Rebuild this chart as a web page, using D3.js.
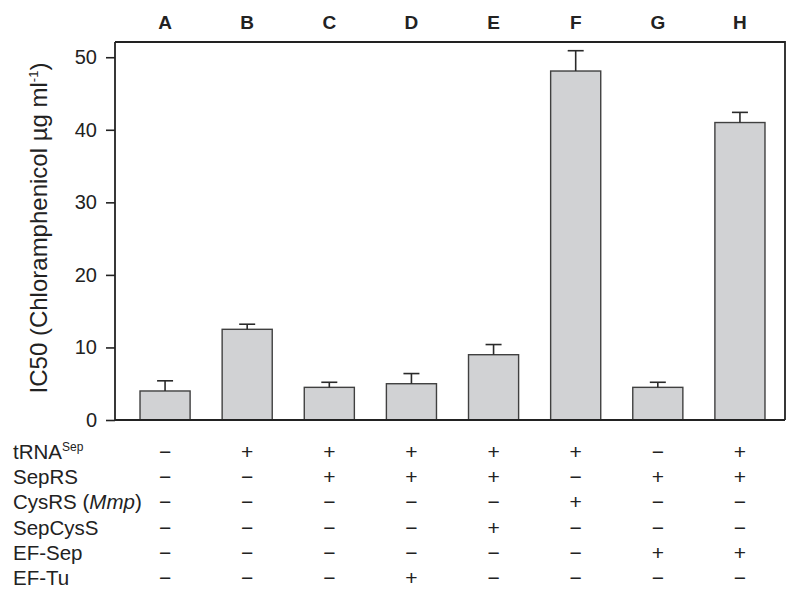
<!DOCTYPE html>
<html>
<head>
<meta charset="utf-8">
<script src="https://cdn.jsdelivr.net/npm/d3@7"></script>
<style>
  body { margin: 0; background: #fff; }
  text { font-family: "Liberation Sans", Arial, Helvetica, sans-serif; fill: #222; }
</style>
</head>
<body>
<div id="chart-area"></div>
<script>
let lanes = ["A", "B", "C", "D", "E", "F", "G", "H"];
let ic50 = [4.0, 12.5, 4.5, 5.0, 9.0, 48.1, 4.5, 41.0];
let errUp = [1.4, 0.7, 0.7, 1.4, 1.4, 2.8, 0.7, 1.4];
let yTicks = [0, 10, 20, 30, 40, 50];

let rowLabels = ["tRNA", "SepRS", "CysRS (", "SepCysS", "EF-Sep", "EF-Tu"];
let signs = [
    ["−", "+", "+", "+", "+", "+", "−", "+"],
    ["−", "−", "+", "+", "+", "−", "+", "+"],
    ["−", "−", "−", "−", "−", "+", "−", "−"],
    ["−", "−", "−", "−", "+", "−", "−", "−"],
    ["−", "−", "−", "−", "−", "−", "+", "+"],
    ["−", "−", "−", "+", "−", "−", "−", "−"]
];

let width = 800;
let height = 599;
let plot = { left: 115, right: 785, top: 42, bottom: 420 };

let svg = d3.select("#chart-area")
    .append("svg")
    .attr("width", width)
    .attr("height", height);

let x = d3.scaleBand()
    .domain(lanes)
    .range([124, 781])
    .paddingInner(0.39)
    .paddingOuter(0.195);

let y = d3.scaleLinear()
    .domain([0, 52.1])
    .range([plot.bottom, plot.top]);

// bars
svg.append("g")
    .selectAll("rect")
    .data(lanes)
    .enter()
    .append("rect")
    .attr("x", d => x(d))
    .attr("y", (d, i) => y(ic50[i]))
    .attr("width", x.bandwidth())
    .attr("height", (d, i) => y(0) - y(ic50[i]))
    .attr("fill", "#d1d2d4")
    .attr("stroke", "#404040")
    .attr("stroke-width", 1.4);

// error bars (upper only)
let errs = svg.append("g")
    .attr("stroke", "#2a2a2a")
    .attr("stroke-width", 1.6);

lanes.forEach((d, i) => {
    let cx = x(d) + x.bandwidth() / 2;
    errs.append("line")
        .attr("x1", cx).attr("x2", cx)
        .attr("y1", y(ic50[i])).attr("y2", y(ic50[i] + errUp[i]));
    errs.append("line")
        .attr("x1", cx - 8).attr("x2", cx + 8)
        .attr("y1", y(ic50[i] + errUp[i])).attr("y2", y(ic50[i] + errUp[i]));
});

// frame: top and right lines
svg.append("path")
    .attr("d", "M" + plot.left + "," + plot.top + "H" + plot.right + "V" + plot.bottom)
    .attr("fill", "none")
    .attr("stroke", "#222")
    .attr("stroke-width", 1.8);

// bottom line
svg.append("line")
    .attr("x1", plot.left).attr("x2", plot.right)
    .attr("y1", plot.bottom).attr("y2", plot.bottom)
    .attr("stroke", "#222")
    .attr("stroke-width", 1.8);

// Y axis
let yAxis = d3.axisLeft(y)
    .tickValues(yTicks)
    .tickSize(9)
    .tickPadding(9);

let yg = svg.append("g")
    .attr("class", "y-axis")
    .attr("transform", "translate(" + plot.left + ",0)")
    .call(yAxis);

yg.select(".domain")
    .attr("d", "M0," + plot.top + "V" + plot.bottom)
    .attr("stroke", "#222")
    .attr("stroke-width", 1.8);
yg.selectAll(".tick line").attr("stroke", "#222").attr("stroke-width", 1.6);
yg.selectAll(".tick text")
    .style("font-family", "'Liberation Sans', Arial, sans-serif")
    .style("font-size", "20px")
    .attr("fill", "#222");

// lane letters above plot
svg.append("g")
    .selectAll("text")
    .data(lanes)
    .enter()
    .append("text")
    .attr("x", d => x(d) + x.bandwidth() / 2)
    .attr("y", 29)
    .attr("text-anchor", "middle")
    .style("font-size", "19px")
    .style("font-weight", "bold")
    .text(d => d);

// y-axis label
let yl = svg.append("text")
    .attr("transform", "rotate(-90)")
    .attr("x", -228)
    .attr("y", 47)
    .attr("text-anchor", "middle")
    .style("font-size", "24px");
yl.append("tspan").text("IC50 (Chloramphenicol µg ml");
yl.append("tspan").attr("dy", -9).style("font-size", "13px").text("-1");
yl.append("tspan").attr("dy", 9).text(")");

// condition table
let rowY = d3.scalePoint()
    .domain(d3.range(rowLabels.length))
    .range([459, 585]);

let labels = svg.append("g")
    .style("font-size", "20.5px");

rowLabels.forEach((lab, r) => {
    let t = labels.append("text")
        .attr("x", 13)
        .attr("y", rowY(r));
    t.append("tspan").text(lab);
    if (r === 0) {
        t.append("tspan").attr("dy", -8).style("font-size", "12px").text("Sep");
    }
    if (r === 2) {
        t.append("tspan").style("font-style", "italic").text("Mmp");
        t.append("tspan").text(")");
    }
});

let signG = svg.append("g")
    .style("font-size", "21px");

signs.forEach((row, r) => {
    row.forEach((s, c) => {
        signG.append("text")
            .attr("x", x(lanes[c]) + x.bandwidth() / 2)
            .attr("y", rowY(r))
            .attr("text-anchor", "middle")
            .text(s);
    });
});
</script>
</body>
</html>
